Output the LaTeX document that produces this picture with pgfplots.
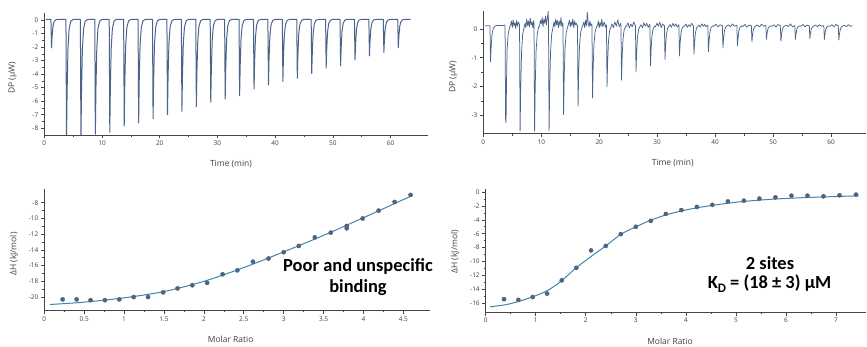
\documentclass[border=0pt]{standalone}
\usepackage{fontspec}
\setmainfont{Open Sans}
\newfontfamily\calib{Carlito}
\usepackage{pgfplots}
\pgfplotsset{compat=1.18}
\definecolor{trace}{RGB}{75,100,137}
\definecolor{dotc}{RGB}{80,98,130}
\definecolor{fitc}{RGB}{64,134,170}
\definecolor{axc}{RGB}{70,70,70}
\definecolor{labc}{RGB}{64,64,64}
\pgfplotsset{
  itc/.style={
    scale only axis, axis x line*=bottom, axis y line*=left,
    tick align=outside, major tick length=3.5bp, minor tick length=2bp,
    axis line style={axc, line width=0.7bp},
    every tick/.style={axc, line width=0.6bp},
    /pgf/number format/assume math mode=true,
    tick label style={font=\fontsize{6.5}{7}\selectfont, text=labc},
    xticklabel style={yshift=1bp},
    yticklabel style={xshift=1bp},
    anchor=south west,
  }
}
\begin{document}
\begin{tikzpicture}[x=1bp,y=1bp]
\useasboundingbox (0,0) rectangle (867,346);
% Panel 1
\begin{axis}[itc, at={(44.3bp,211bp)}, width=383.7bp, height=121.7bp,
  xmin=0, xmax=66.5, ymin=-8.5, ymax=0.5,
  xtick={0,10,...,60}, minor x tick num=1,
  ytick={-8,-7,...,0}, minor y tick num=1]
\addplot[trace, line width=1bp, line join=round] coordinates {
(0.3,0.05)
(1.15,0.05)(1.25,-2.05)(1.35,-1.21)(1.5,-0.47)(1.7,-0.12)(2.0,0.02)(2.4,0.05)
(3.75,0.05)(3.85,-8.9)(3.95,-5.32)(4.1,-2.19)(4.3,-0.67)(4.6,-0.08)(5.0,0.05)
(6.25,0.05)(6.35,-8.9)(6.45,-5.32)(6.6,-2.19)(6.8,-0.67)(7.1,-0.08)(7.5,0.05)
(8.75,0.05)(8.85,-8.45)(8.95,-5.05)(9.1,-2.07)(9.3,-0.63)(9.6,-0.08)(10.0,0.05)
(11.25,0.05)(11.35,-8.3)(11.45,-4.96)(11.6,-2.04)(11.8,-0.62)(12.1,-0.07)(12.5,0.05)
(13.75,0.05)(13.85,-7.85)(13.95,-4.69)(14.1,-1.93)(14.3,-0.58)(14.6,-0.07)(15.0,0.05)
(16.25,0.05)(16.35,-7.6)(16.45,-4.54)(16.6,-1.86)(16.8,-0.56)(17.1,-0.06)(17.5,0.05)
(18.75,0.05)(18.85,-7.3)(18.95,-4.36)(19.1,-1.79)(19.3,-0.54)(19.6,-0.06)(20.0,0.05)
(21.25,0.05)(21.35,-7.0)(21.45,-4.18)(21.6,-1.71)(21.8,-0.51)(22.1,-0.06)(22.5,0.05)
(23.75,0.05)(23.85,-6.75)(23.95,-4.03)(24.1,-1.65)(24.3,-0.49)(24.6,-0.05)(25.0,0.05)
(26.25,0.05)(26.35,-6.4)(26.45,-3.82)(26.6,-1.56)(26.8,-0.47)(27.1,-0.05)(27.5,0.05)
(28.75,0.05)(28.85,-6.07)(28.95,-3.62)(29.1,-1.48)(29.3,-0.44)(29.6,-0.04)(30.0,0.05)
(31.25,0.05)(31.35,-5.85)(31.45,-3.49)(31.6,-1.42)(31.8,-0.42)(32.1,-0.04)(32.5,0.05)
(33.75,0.05)(33.85,-5.6)(33.95,-3.34)(34.1,-1.36)(34.3,-0.40)(34.6,-0.03)(35.0,0.05)
(36.25,0.05)(36.35,-5.1)(36.45,-3.04)(36.6,-1.24)(36.8,-0.36)(37.1,-0.03)(37.5,0.05)
(38.75,0.05)(38.85,-4.8)(38.95,-2.86)(39.1,-1.16)(39.3,-0.34)(39.6,-0.02)(40.0,0.05)
(41.25,0.05)(41.35,-4.55)(41.45,-2.71)(41.6,-1.10)(41.8,-0.32)(42.1,-0.02)(42.5,0.05)
(43.75,0.05)(43.85,-4.3)(43.95,-2.56)(44.1,-1.04)(44.3,-0.30)(44.6,-0.02)(45.0,0.05)
(46.25,0.05)(46.35,-3.95)(46.45,-2.35)(46.6,-0.95)(46.8,-0.27)(47.1,-0.01)(47.5,0.05)
(48.75,0.05)(48.85,-3.55)(48.95,-2.11)(49.1,-0.85)(49.3,-0.24)(49.6,-0.01)(50.0,0.05)
(51.25,0.05)(51.35,-3.4)(51.45,-2.02)(51.6,-0.81)(51.8,-0.23)(52.1,0.0)(52.5,0.05)
(53.75,0.05)(53.85,-2.95)(53.95,-1.75)(54.1,-0.70)(54.3,-0.19)(54.6,0.0)(55.0,0.05)
(56.25,0.05)(56.35,-2.65)(56.45,-1.57)(56.6,-0.63)(56.8,-0.17)(57.1,0.01)(57.5,0.05)
(58.75,0.05)(58.85,-2.4)(58.95,-1.42)(59.1,-0.56)(59.3,-0.15)(59.6,0.01)(60.0,0.05)
(61.25,0.05)(61.35,-2.05)(61.45,-1.21)(61.6,-0.47)(61.8,-0.12)(62.1,0.02)(62.5,0.05)
(63.5,0.05)};
\end{axis}
% Panel 2
\begin{axis}[itc, at={(483.3bp,212.2bp)}, width=382.5bp, height=122.5bp,
  xmin=0, xmax=66, ymin=-3.65, ymax=0.62,
  xtick={0,10,...,60}, minor x tick num=1,
  ytick={-3,-2,-1,0}, minor y tick num=1]
\addplot[trace, line width=0.75bp, line join=round] coordinates {
(0.3,0.12)(1.15,0.12)(1.25,-1.14)(1.35,-0.64)(1.5,-0.20)(1.7,0.02)(2.0,0.10)(2.4,0.13)(3.0,0.12)(3.5,0.13)
(3.75,0.14)(3.85,-3.15)(3.92,-3.27)(4.0,-1.91)(4.1,-0.73)(4.3,-0.15)(4.55,0.07)
(4.7,0.15)(4.85,0.28)(5.0,0.05)(5.15,0.32)(5.3,0.12)(5.45,0.22)(5.6,0.02)(5.75,0.30)(5.9,0.10)(6.05,0.25)(6.2,0.18)
(6.25,0.15)(6.35,-3.55)(6.45,-2.08)(6.6,-0.80)(6.8,-0.17)(7.05,0.07)
(7.2,0.20)(7.35,0.05)(7.5,0.35)(7.65,0.12)(7.8,0.28)(7.95,0.08)(8.1,0.38)(8.25,0.15)(8.4,0.25)(8.55,0.05)(8.7,0.30)
(8.75,0.2)(8.85,-3.55)(8.95,-2.08)(9.1,-0.80)(9.3,-0.17)(9.55,0.07)
(9.7,0.10)(9.85,0.30)(10.0,0.18)(10.15,0.40)(10.3,0.08)(10.45,0.35)(10.6,0.20)(10.75,0.45)(10.9,0.15)(11.05,0.38)(11.2,0.62)
(11.25,0.2)(11.35,-3.55)(11.45,-2.08)(11.6,-0.80)(11.8,-0.17)(12.05,0.07)
(12.2,0.25)(12.35,0.08)(12.5,0.35)(12.65,0.15)(12.8,0.30)(12.95,0.05)(13.1,0.28)(13.25,0.12)(13.4,0.40)(13.55,0.10)(13.7,0.22)
(13.75,0.15)(13.85,-2.98)(13.95,-1.74)(14.1,-0.65)(14.3,-0.13)(14.55,0.07)
(14.7,0.18)(14.85,0.30)(15.0,0.08)(15.15,0.25)(15.3,0.12)(15.45,0.35)(15.6,0.05)(15.75,0.28)(15.9,0.15)(16.05,0.20)(16.2,0.10)
(16.25,0.12)(16.35,-2.69)(16.45,-1.57)(16.6,-0.58)(16.8,-0.11)(17.05,0.08)
(17.2,0.15)(17.35,0.25)(17.5,0.05)(17.65,0.30)(17.8,0.12)(17.95,0.58)(18.1,0.20)(18.25,0.08)(18.4,0.28)(18.55,0.12)(18.7,0.18)
(18.75,0.14)(18.85,-2.4)(18.95,-1.39)(19.1,-0.51)(19.3,-0.08)(19.55,0.08)
(19.7,0.12)(19.85,0.28)(20.0,0.05)(20.15,0.22)(20.3,0.10)(20.45,0.35)(20.6,0.08)(20.75,0.18)(20.9,0.25)(21.05,0.06)(21.2,0.15)
(21.25,0.13)(21.35,-2.01)(21.45,-1.16)(21.6,-0.41)(21.8,-0.05)(22.05,0.09)
(22.2,0.18)(22.45,0.05)(22.7,0.25)(22.95,0.10)(23.2,0.32)(23.45,0.08)(23.7,0.20)
(23.75,0.13)(23.85,-1.78)(23.95,-1.02)(24.1,-0.36)(24.3,-0.03)(24.55,0.09)
(24.7,0.10)(24.95,0.22)(25.2,0.04)(25.45,0.18)(25.7,0.08)(25.95,0.25)(26.2,0.12)
(26.25,0.13)(26.35,-1.49)(26.45,-0.85)(26.6,-0.28)(26.8,-0.01)(27.05,0.10)
(27.2,0.15)(27.45,0.05)(27.7,0.22)(27.95,0.10)(28.2,0.20)(28.45,0.06)(28.7,0.16)
(28.75,0.12)(28.85,-1.29)(28.95,-0.73)(29.1,-0.23)(29.3,0.01)(29.55,0.10)
(29.7,0.08)(29.95,0.20)(30.2,0.10)(30.45,0.24)(30.7,0.05)(30.95,0.18)(31.2,0.12)
(31.25,0.12)(31.35,-1.06)(31.45,-0.59)(31.6,-0.18)(31.8,0.03)(32.05,0.10)
(32.2,0.16)(32.45,0.06)(32.7,0.20)(32.95,0.10)(33.2,0.18)(33.45,0.07)(33.7,0.15)
(33.75,0.12)(33.85,-0.94)(33.95,-0.52)(34.1,-0.15)(34.3,0.03)(34.55,0.10)
(34.7,0.10)(34.95,0.18)(35.2,0.06)(35.45,0.15)(35.7,0.09)(35.95,0.20)(36.2,0.12)
(36.25,0.12)(36.35,-0.88)(36.45,-0.48)(36.6,-0.13)(36.8,0.04)(37.05,0.10)
(37.2,0.14)(37.45,0.07)(37.7,0.18)(37.95,0.10)(38.2,0.16)(38.45,0.08)(38.7,0.13)
(38.75,0.12)(38.85,-0.79)(38.95,-0.43)(39.1,-0.11)(39.3,0.05)(39.55,0.11)
(39.8,0.10)(40.15,0.17)(40.5,0.08)(40.85,0.15)(41.2,0.12)
(41.25,0.12)(41.35,-0.65)(41.45,-0.34)(41.6,-0.07)(41.8,0.06)(42.05,0.11)
(42.3,0.15)(42.65,0.08)(43.0,0.18)(43.35,0.10)(43.7,0.13)
(43.75,0.12)(43.85,-0.59)(43.95,-0.31)(44.1,-0.06)(44.3,0.06)(44.55,0.11)
(44.8,0.09)(45.15,0.16)(45.5,0.07)(45.85,0.14)(46.2,0.12)
(46.25,0.12)(46.35,-0.44)(46.45,-0.22)(46.6,-0.02)(46.8,0.07)(47.05,0.11)
(47.3,0.14)(47.65,0.08)(48.0,0.17)(48.35,0.10)(48.7,0.13)
(48.75,0.12)(48.85,-0.36)(48.95,-0.17)(49.1,0.0)(49.3,0.08)(49.55,0.11)
(49.8,0.10)(50.15,0.15)(50.5,0.07)(50.85,0.16)(51.2,0.12)
(51.25,0.12)(51.35,-0.42)(51.45,-0.20)(51.6,-0.02)(51.8,0.08)(52.05,0.11)
(52.3,0.13)(52.65,0.09)(53.0,0.18)(53.35,0.08)(53.7,0.12)
(53.75,0.12)(53.85,-0.36)(53.95,-0.17)(54.1,0.0)(54.3,0.08)(54.55,0.11)
(54.8,0.10)(55.15,0.16)(55.5,0.08)(55.85,0.14)(56.2,0.11)
(56.25,0.12)(56.35,-0.33)(56.45,-0.15)(56.6,0.01)(56.8,0.08)(57.05,0.11)
(57.3,0.14)(57.65,0.08)(58.0,0.15)(58.35,0.10)(58.7,0.12)
(58.75,0.12)(58.85,-0.36)(58.95,-0.17)(59.1,0.0)(59.3,0.08)(59.55,0.11)
(59.8,0.10)(60.15,0.15)(60.5,0.08)(60.85,0.16)(61.2,0.12)
(61.25,0.12)(61.35,-0.38)(61.45,-0.18)(61.6,-0.01)(61.8,0.08)(62.05,0.11)
(62.3,0.13)(62.65,0.09)(63.0,0.15)(63.35,0.10)(63.7,0.12)};
\end{axis}
% Panel 3
\begin{axis}[itc, at={(44.3bp,35.6bp)}, width=385.4bp, height=121bp,
  xmin=0, xmax=4.83, ymin=-21.7, ymax=-6.3,
  xtick={0,0.5,...,4.5}, minor x tick num=1,
  ytick={-20,-18,...,-8}, minor y tick num=1]
\addplot[fitc, line width=1bp, smooth] coordinates {
(0.07,-20.95)(0.5,-20.65)(1.0,-20.1)(1.5,-19.3)(2.0,-18.0)(2.5,-16.25)(3.0,-14.25)(3.5,-12.15)(4.0,-9.9)(4.5,-7.6)(4.6,-7.15)};
\addplot[only marks, mark=*, mark size=2.1bp, mark options={draw=dotc, fill=dotc}] coordinates {
(0.23,-20.3)(0.405,-20.3)(0.58,-20.4)(0.76,-20.4)(0.94,-20.3)(1.12,-20.0)(1.30,-20.0)(1.49,-19.4)(1.67,-18.9)(1.855,-18.5)(2.04,-18.2)(2.235,-17.1)(2.42,-16.6)(2.615,-15.5)(2.81,-15.1)(3.0,-14.3)(3.19,-13.5)(3.39,-12.4)(3.59,-11.8)(3.79,-10.95)(3.79,-11.25)(3.99,-10.0)(4.19,-9.0)(4.39,-7.9)(4.59,-7.0)};
\end{axis}
% Panel 4
\begin{axis}[itc, at={(485.7bp,34bp)}, width=380.3bp, height=122.8bp,
  xmin=0, xmax=7.6, ymin=-17.25, ymax=0.4,
  xtick={0,1,...,7}, minor x tick num=1,
  ytick={-16,-14,...,0}, minor y tick num=1]
\addplot[fitc, line width=1bp, smooth] coordinates {
(0.09,-16.5)(0.4,-16.2)(0.7,-15.65)(1.0,-14.9)(1.25,-14.1)(1.5,-12.85)(1.8,-10.95)(2.1,-9.3)(2.4,-7.75)(2.7,-6.1)(3.0,-5.0)(3.3,-4.05)(3.6,-3.3)(3.9,-2.75)(4.2,-2.3)(4.6,-1.85)(5.1,-1.4)(5.7,-1.05)(6.4,-0.8)(7.45,-0.55)};
\addplot[only marks, mark=*, mark size=2.1bp, mark options={draw=dotc, fill=dotc}] coordinates {
(0.366,-15.4)(0.653,-15.5)(0.94,-15.1)(1.226,-14.6)(1.52,-12.7)(1.81,-10.9)(2.105,-8.4)(2.40,-7.75)(2.70,-6.05)(3.0,-5.0)(3.30,-4.15)(3.60,-3.15)(3.91,-2.6)(4.22,-2.15)(4.53,-1.85)(4.84,-1.35)(5.16,-1.25)(5.47,-0.95)(5.79,-0.77)(6.11,-0.53)(6.43,-0.53)(6.75,-0.62)(7.07,-0.48)(7.40,-0.38)};
\end{axis}
% labels
\begin{scope}[every node/.style={font=\fontsize{8.5}{9}\selectfont, text=labc}]
\node[rotate=90] at (12.5,268) {DP (μW)};
\node at (231,182) {Time (min)};
\node[rotate=90] at (453.3,269.3) {DP (μW)};
\node at (672.7,182.7) {Time (min)};
\node[rotate=90] at (14,92) {ΔH (kJ/mol)};
\node at (230.7,6.7) {Molar Ratio};
\node[rotate=90] at (455,94.3) {ΔH (kJ/mol)};
\node at (670,4.3) {Molar Ratio};
\end{scope}
\begin{scope}[every node/.style={font=\calib\bfseries\fontsize{18.5}{21}\selectfont, text=black}]
\node at (358,79.3) {Poor and unspecific};
\node at (358,58.7) {binding};
\node at (770,83.3) {2 sites};
\node at (769.5,62) {K\raisebox{-0.22em}{\fontsize{13}{13}\selectfont D} = (18 ± 3) μM};
\end{scope}
\end{tikzpicture}
\end{document}
